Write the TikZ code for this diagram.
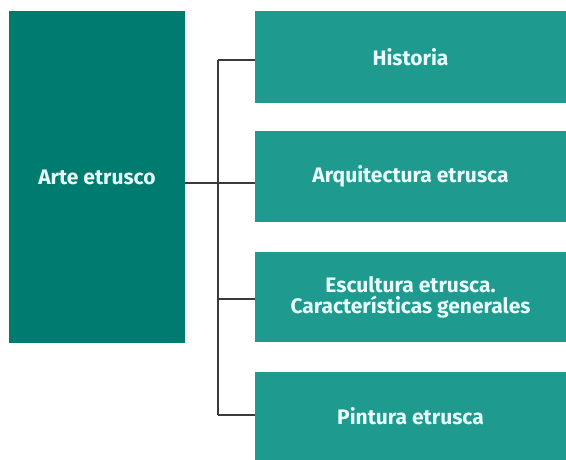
\documentclass[tikz,border=0pt]{standalone}
\usepackage{fontspec}
\setmainfont{Fira Sans}
\usepackage{tikz}

\definecolor{tealoscuro}{HTML}{007B6F}
\definecolor{tealclaro}{HTML}{1F9A8E}
\definecolor{textoclaro}{HTML}{E8FFFD}
\definecolor{linea}{HTML}{3A3A3A}

\begin{document}
\begin{tikzpicture}[x=1pt,y=-1pt,
  raiz/.style={fill=tealoscuro,text=textoclaro,inner sep=0pt,minimum width=176pt,minimum height=332pt,font=\fontsize{21}{21}\selectfont\bfseries},
  tema/.style={fill=tealclaro,text=textoclaro,inner sep=0pt,minimum width=311pt,font=\fontsize{21}{21}\selectfont\bfseries,align=center},
  rama/.style={linea,line width=1.2pt}]
\useasboundingbox (0,0) rectangle (566,460);
\node [raiz] (arte) at (97,177) {Arte etrusco};
\node [tema,minimum height=92pt] (hist) at (410.5,57) {Historia};
\node [tema,minimum height=91pt] (arq) at (410.5,176.5) {Arquitectura etrusca};
\node [tema,minimum height=90pt] (esc) at (410.5,297) {Escultura etrusca.\\Características generales};
\node [tema,minimum height=88pt] (pin) at (410.5,416) {Pintura etrusca};
\coordinate (tronco) at (218,183);
\coordinate (r1) at (218,60);
\coordinate (r3) at (218,299);
\coordinate (r4) at (218,415);
\draw [rama] (arte.east |- tronco) -- (arq.west |- tronco);
\draw [rama] (r1) -- (r4);
\draw [rama] (r1) -- (hist.west |- r1);
\draw [rama] (r3) -- (esc.west |- r3);
\draw [rama] (r4) -- (pin.west |- r4);
\end{tikzpicture}
\end{document}
